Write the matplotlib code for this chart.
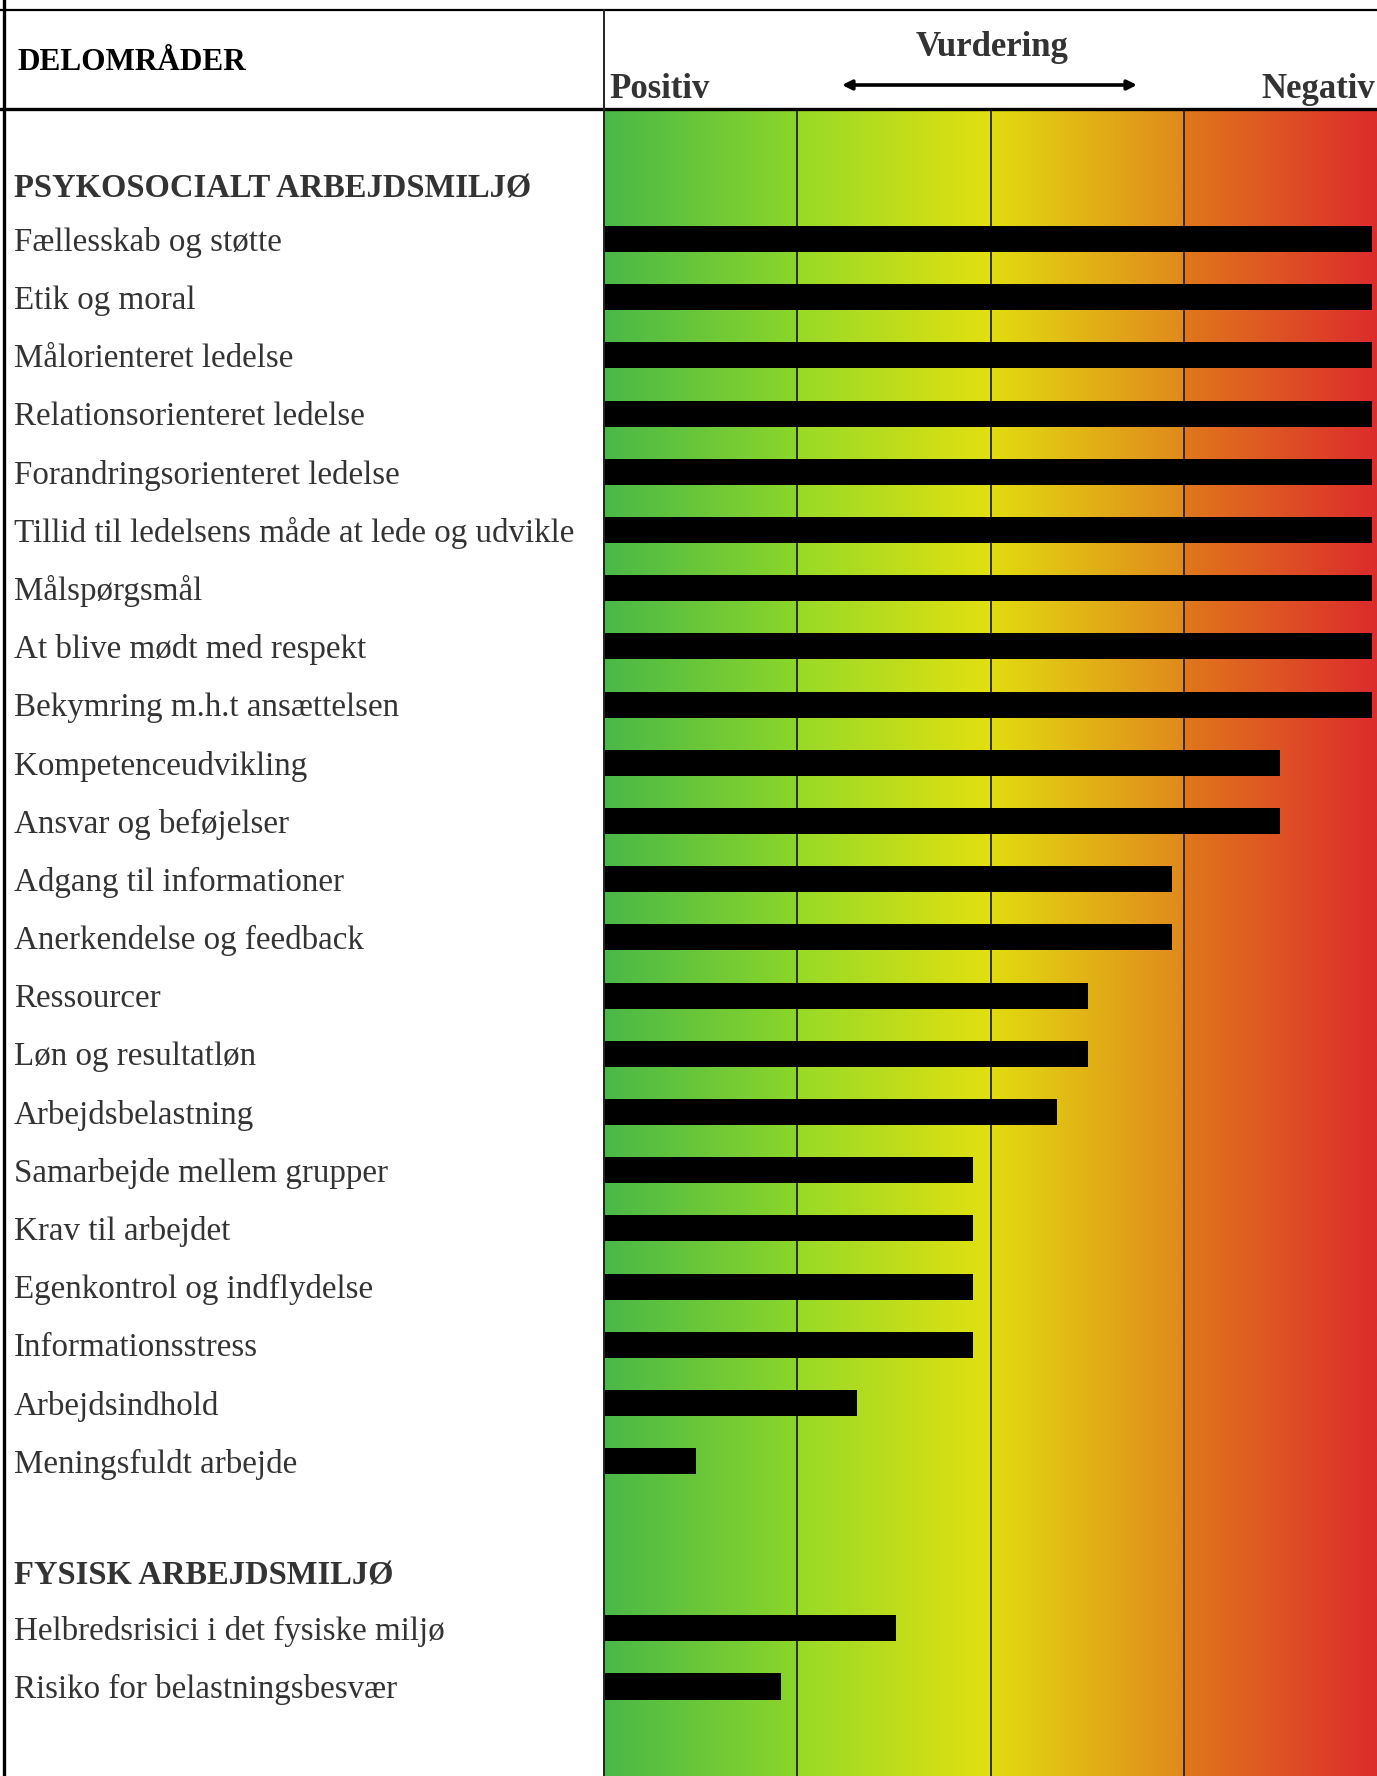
import numpy as np
import matplotlib.pyplot as plt
from matplotlib import transforms
from matplotlib.colors import LinearSegmentedColormap

# Scores per delområde (0 = positiv, 100 = negativ)
psyk_labels = [
    "Fællesskab og støtte",
    "Etik og moral",
    "Målorienteret ledelse",
    "Relationsorienteret ledelse",
    "Forandringsorienteret ledelse",
    "Tillid til ledelsens måde at lede og udvikle",
    "Målspørgsmål",
    "At blive mødt med respekt",
    "Bekymring m.h.t ansættelsen",
    "Kompetenceudvikling",
    "Ansvar og beføjelser",
    "Adgang til informationer",
    "Anerkendelse og feedback",
    "Ressourcer",
    "Løn og resultatløn",
    "Arbejdsbelastning",
    "Samarbejde mellem grupper",
    "Krav til arbejdet",
    "Egenkontrol og indflydelse",
    "Informationsstress",
    "Arbejdsindhold",
    "Meningsfuldt arbejde",
]
psyk_values = [100, 100, 100, 100, 100, 100, 100, 100, 100,
               88, 88, 74, 74, 63, 63, 59, 48, 48, 48, 48, 33, 12]

fys_labels = ["Helbredsrisici i det fysiske miljø", "Risiko for belastningsbesvær"]
fys_values = [38, 23]

W, H = 1377, 1776
fig = plt.figure(figsize=(W / 100, H / 100), dpi=100)
plt.rcParams['font.family'] = ['Liberation Serif', 'DejaVu Serif']

# row layout
psyk_y = np.arange(len(psyk_labels))
fys_y = len(psyk_labels) + 1.87 + np.arange(len(fys_labels))
psyk_head_y = -0.86
fys_head_y = fys_y[0] - 0.9
text_shift = 0.055  # labels sit a touch below the bar centre

# gradient panel, pixel box 604..1377 x 110..1776
x0, y0 = 604, 110
ax = fig.add_axes([x0 / W, 0, (W - x0) / W, (H - y0) / H])
row_px = 58.2
first_px = 239
ax.set_ylim((H - first_px) / row_px, (y0 - first_px) / row_px)
xmax = 100 * (W - x0) / 768
ax.set_xlim(0, xmax)
ax.axis('off')

cmap = LinearSegmentedColormap.from_list("vurdering", [
    (0.0, "#4ab848"), (0.249, "#8cd62a"),
    (0.251, "#98da28"), (0.499, "#e2e010"),
    (0.501, "#e2dc10"), (0.749, "#e08a1c"),
    (0.751, "#e0781c"), (1.0, "#dc2c2c"),
])
grad = np.linspace(0, 1, 800).reshape(1, -1)
ax.imshow(grad, cmap=cmap, aspect='auto', extent=[0, xmax, *ax.get_ylim()],
          interpolation='bilinear', zorder=0)
for q in (0.25, 0.5, 0.75):
    ax.axvline(xmax * q, color='#222222', lw=1.3, zorder=1)

ax.barh(psyk_y, psyk_values, height=0.45, color='black', zorder=2)
ax.barh(fys_y, fys_values, height=0.45, color='black', zorder=2)

# left column labels
trans = transforms.blended_transform_factory(fig.transFigure, ax.transData)
lx = 14 / W
txt_col = '#333333'
ax.text(lx, psyk_head_y, "PSYKOSOCIALT ARBEJDSMILJØ", transform=trans,
        fontsize=23.5, fontweight='bold', color=txt_col, va='center', clip_on=False)
for y, lab in zip(psyk_y, psyk_labels):
    ax.text(lx, y + text_shift, lab, transform=trans, fontsize=23.8, color=txt_col,
            va='center', clip_on=False)
ax.text(lx, fys_head_y, "FYSISK ARBEJDSMILJØ", transform=trans,
        fontsize=23.5, fontweight='bold', color=txt_col, va='center', clip_on=False)
for y, lab in zip(fys_y, fys_labels):
    ax.text(lx, y + text_shift, lab, transform=trans, fontsize=23.8, color=txt_col,
            va='center', clip_on=False)

# header and table frame
def fx(px):
    return px / W

def fy(py):
    return 1 - py / H

fig.add_artist(plt.Line2D([0, 1], [fy(10), fy(10)], color='black', lw=1.6))
fig.add_artist(plt.Line2D([0, 1], [fy(109), fy(109)], color='black', lw=2.4))
fig.add_artist(plt.Line2D([fx(4), fx(4)], [0, 1], color='black', lw=2.4))
fig.add_artist(plt.Line2D([fx(604), fx(604)], [0, fy(10)], color='#222222', lw=1.4))

fig.text(fx(17), fy(63), "DELOMRÅDER", fontsize=22.5, fontweight='bold',
         color='black', va='center')
fig.text(fx(992), fy(47), "Vurdering", fontsize=25, fontweight='bold',
         color=txt_col, ha='center', va='center')
fig.text(fx(609), fy(90), "Positiv", fontsize=25, fontweight='bold',
         color=txt_col, ha='left', va='center')
fig.text(fx(1375), fy(90), "Negativ", fontsize=25, fontweight='bold',
         color=txt_col, ha='right', va='center')
fig.add_artist(plt.Annotation("", xy=(fx(842), fy(85)), xytext=(fx(1137), fy(85)),
                              xycoords='figure fraction', textcoords='figure fraction',
                              arrowprops=dict(arrowstyle='<|-|>', color='black', lw=2.6,
                                              mutation_scale=14, shrinkA=0, shrinkB=0)))

fig.savefig("out.png", dpi=100)
